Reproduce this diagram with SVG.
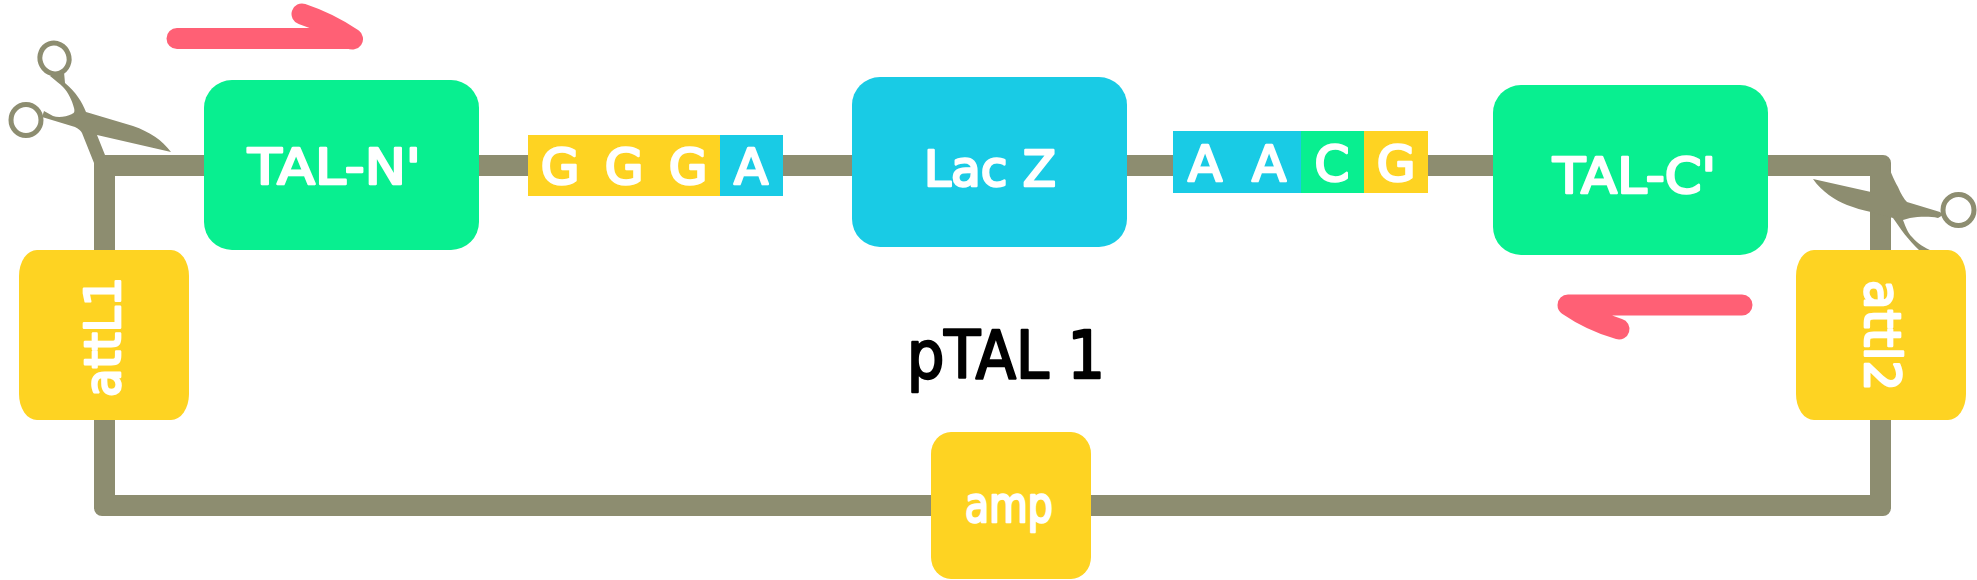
<svg xmlns="http://www.w3.org/2000/svg" width="1977" height="580" viewBox="0 0 1977 580">
<style>
.w{fill:#8d8d70}
.g{fill:#08ef90}
.b{fill:#19cbe5}
.y{fill:#fed322}
.t{font-family:"DejaVu Sans",sans-serif;font-size:50px;fill:#fff;stroke:#fff;stroke-width:2.6;stroke-linejoin:round}
.m{text-anchor:middle}
.k{fill:#000;stroke:#000;font-size:66px}
.a{fill:none;stroke:#ff6075;stroke-width:21;stroke-linecap:round;stroke-linejoin:round}
.r{fill:none;stroke:#8d8d70}
</style>
<rect width="1977" height="580" fill="#fff"/>
<g id="connectors">
<path class="w" fill-rule="evenodd" d="M102 155H1883a8 8 0 0 1 8 8V508a8 8 0 0 1-8 8H102a8 8 0 0 1-8-8V163a8 8 0 0 1 8-8ZM115 176V495H1870V176Z"/>
</g>
<g id="scissors-left">
<ellipse class="r" cx="54.500" cy="58.500" rx="14.500" ry="15.500" stroke-width="5" transform="rotate(-20 54.500 58.500)"/>
<ellipse class="r" cx="26" cy="120" rx="15" ry="15.500" stroke-width="5"/>
<path class="w" d="M50 76C55 80 60 84 63 87C68 92 72 100 74 108C75 112 74 113 72 114C66 117 58 118 53 116L44 111L42 117L75 127C79 129 81 131 82 133L94 163L105 155L97 135L171 152C162 140 150 132 133 126L86 112C82 102 76 92 65 83L64 72Z"/>
</g>
<g id="scissors-right">
<ellipse class="r" cx="1958.500" cy="210" rx="15.500" ry="15.500" stroke-width="5"/>
<path class="w" d="M1871 165H1888C1890 170 1893 178 1898 187C1901 194 1904 199 1907 202L1940 212L1943 215L1938 218C1928 216 1918 217 1910 218L1903 220C1906 228 1908 233 1912 237C1918 244 1925 248 1932 251H1920C1908 240 1900 228 1893 218L1871 212C1862 210 1855 208 1847 205C1835 200 1822 192 1813 179L1871 192Z"/>
</g>
<g id="arrow-top"><path class="a" d="M177 38.500H352M302 14C320 20 338 29 352.500 39"/></g>
<g id="arrow-bottom"><path class="a" d="M1742 305H1568C1584 316 1602 324 1619 329"/></g>
<g id="tal-n"><rect class="g" x="204" y="80" width="275" height="170" rx="28"/><text class="t" x="248" y="184" textLength="173" lengthAdjust="spacingAndGlyphs">TAL-N'</text></g>
<g id="tal-c"><rect class="g" x="1493" y="85" width="275" height="170" rx="28"/><text class="t" x="1553" y="193" textLength="163" lengthAdjust="spacingAndGlyphs">TAL-C'</text></g>
<g id="lacz"><rect class="b" x="852" y="77" width="275" height="170" rx="28"/><text class="t" x="924" y="186" textLength="132" lengthAdjust="spacingAndGlyphs">Lac Z</text></g>
<g id="seq-left">
<rect class="y" x="528" y="135" width="64" height="61"/><text class="t m" x="560" y="184">G</text>
<rect class="y" x="592" y="135" width="64" height="61"/><text class="t m" x="624" y="184">G</text>
<rect class="y" x="656" y="135" width="64" height="61"/><text class="t m" x="688" y="184">G</text>
<rect class="b" x="720" y="135" width="63" height="61"/><text class="t m" x="751" y="184">A</text>
</g>
<g id="seq-right">
<rect class="b" x="1173" y="131" width="64" height="62"/><text class="t m" x="1205" y="181">A</text>
<rect class="b" x="1237" y="131" width="64" height="62"/><text class="t m" x="1269" y="181">A</text>
<rect class="g" x="1301" y="131" width="63" height="62"/><text class="t m" x="1332" y="181">C</text>
<rect class="y" x="1364" y="131" width="64" height="62"/><text class="t m" x="1396" y="181">G</text>
</g>
<g id="attl1"><rect class="y" x="19" y="250" width="170" height="170" rx="18" ry="26"/><text class="t" transform="translate(120 397) rotate(-90)" textLength="120" lengthAdjust="spacingAndGlyphs">attL1</text></g>
<g id="attl2"><rect class="y" x="1796" y="250" width="170" height="170" rx="18" ry="26"/><text class="t" transform="translate(1865 280) rotate(90)" textLength="111" lengthAdjust="spacingAndGlyphs">attl2</text></g>
<g id="amp"><rect class="y" x="931" y="432" width="160" height="147" rx="20" ry="22"/><text class="t" x="965" y="522" textLength="88" lengthAdjust="spacingAndGlyphs">amp</text></g>
<g id="title"><text class="t k" x="907" y="378" textLength="198" lengthAdjust="spacingAndGlyphs">pTAL 1</text></g>
</svg>
